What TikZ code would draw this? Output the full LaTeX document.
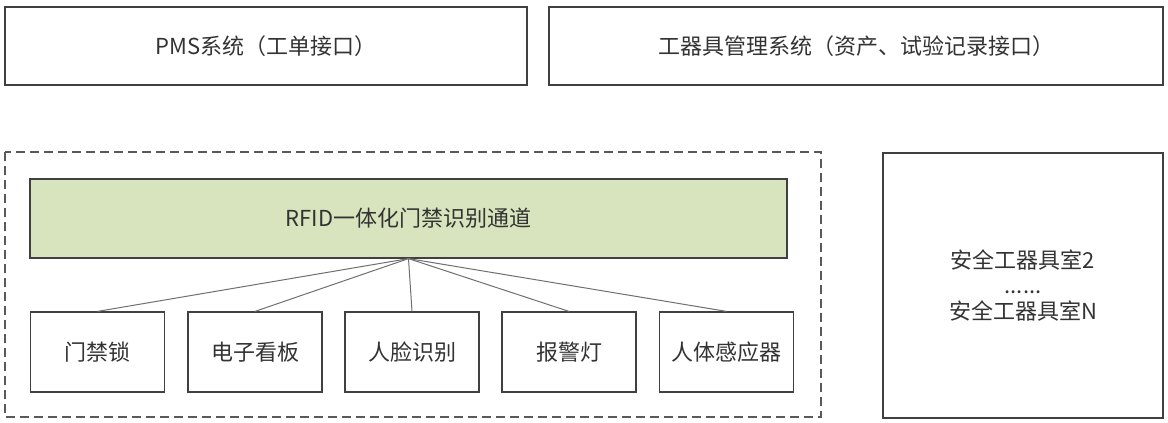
\documentclass[tikz,border=0pt]{standalone}
\usepackage{fontspec}
\setmainfont{Noto Sans CJK SC}
\definecolor{edge}{HTML}{404040}
\definecolor{conn}{HTML}{707070}
\definecolor{txt}{HTML}{333333}
\definecolor{greenfill}{HTML}{D7E4BD}
\definecolor{dashc}{HTML}{595959}
\tikzset{
  box/.style={draw=edge, line width=1.2pt, inner sep=0pt, text=txt, font=\fontsize{22}{25.5}\selectfont, align=center},
  conline/.style={draw=conn, line width=1pt},
  groupbox/.style={draw=dashc, line width=1.2pt, dash pattern=on 9pt off 5pt}
}
\begin{document}
\begin{tikzpicture}[x=1pt,y=-1pt]
\path[use as bounding box, fill=white] (0,0) rectangle (1168,423);
\node[box, minimum width=522pt, minimum height=78pt] (pms) at (266,46) {PMS系统（工单接口）};
\node[box, minimum width=614pt, minimum height=78pt] (tool) at (856,46) {工器具管理系统（资产、试验记录接口）};
\coordinate (g1) at (5,152);
\coordinate (g2) at (821,417);
\draw[groupbox] (g1) rectangle (g2);
\node[box, fill=greenfill, minimum width=757pt, minimum height=79pt] (rfid) at (408.5,218.5) {RFID一体化门禁识别通道};
\node[box, minimum width=134pt, minimum height=80pt] (b1) at (97.5,352) {门禁锁};
\node[box, minimum width=134pt, minimum height=80pt] (b2) at (255,352) {电子看板};
\node[box, minimum width=134pt, minimum height=80pt] (b3) at (412,352) {人脸识别};
\node[box, minimum width=134pt, minimum height=80pt] (b4) at (569,352) {报警灯};
\node[box, minimum width=134pt, minimum height=80pt] (b5) at (726.5,352) {人体感应器};
\foreach \b in {b1,b2,b3,b4,b5}{
  \draw[conline] (rfid.south) -- (\b.north);
}
\node[box, minimum width=280pt, minimum height=265pt] (room) at (1023,285.5) {安全工器具室2\\......\\安全工器具室N};
\end{tikzpicture}
\end{document}
